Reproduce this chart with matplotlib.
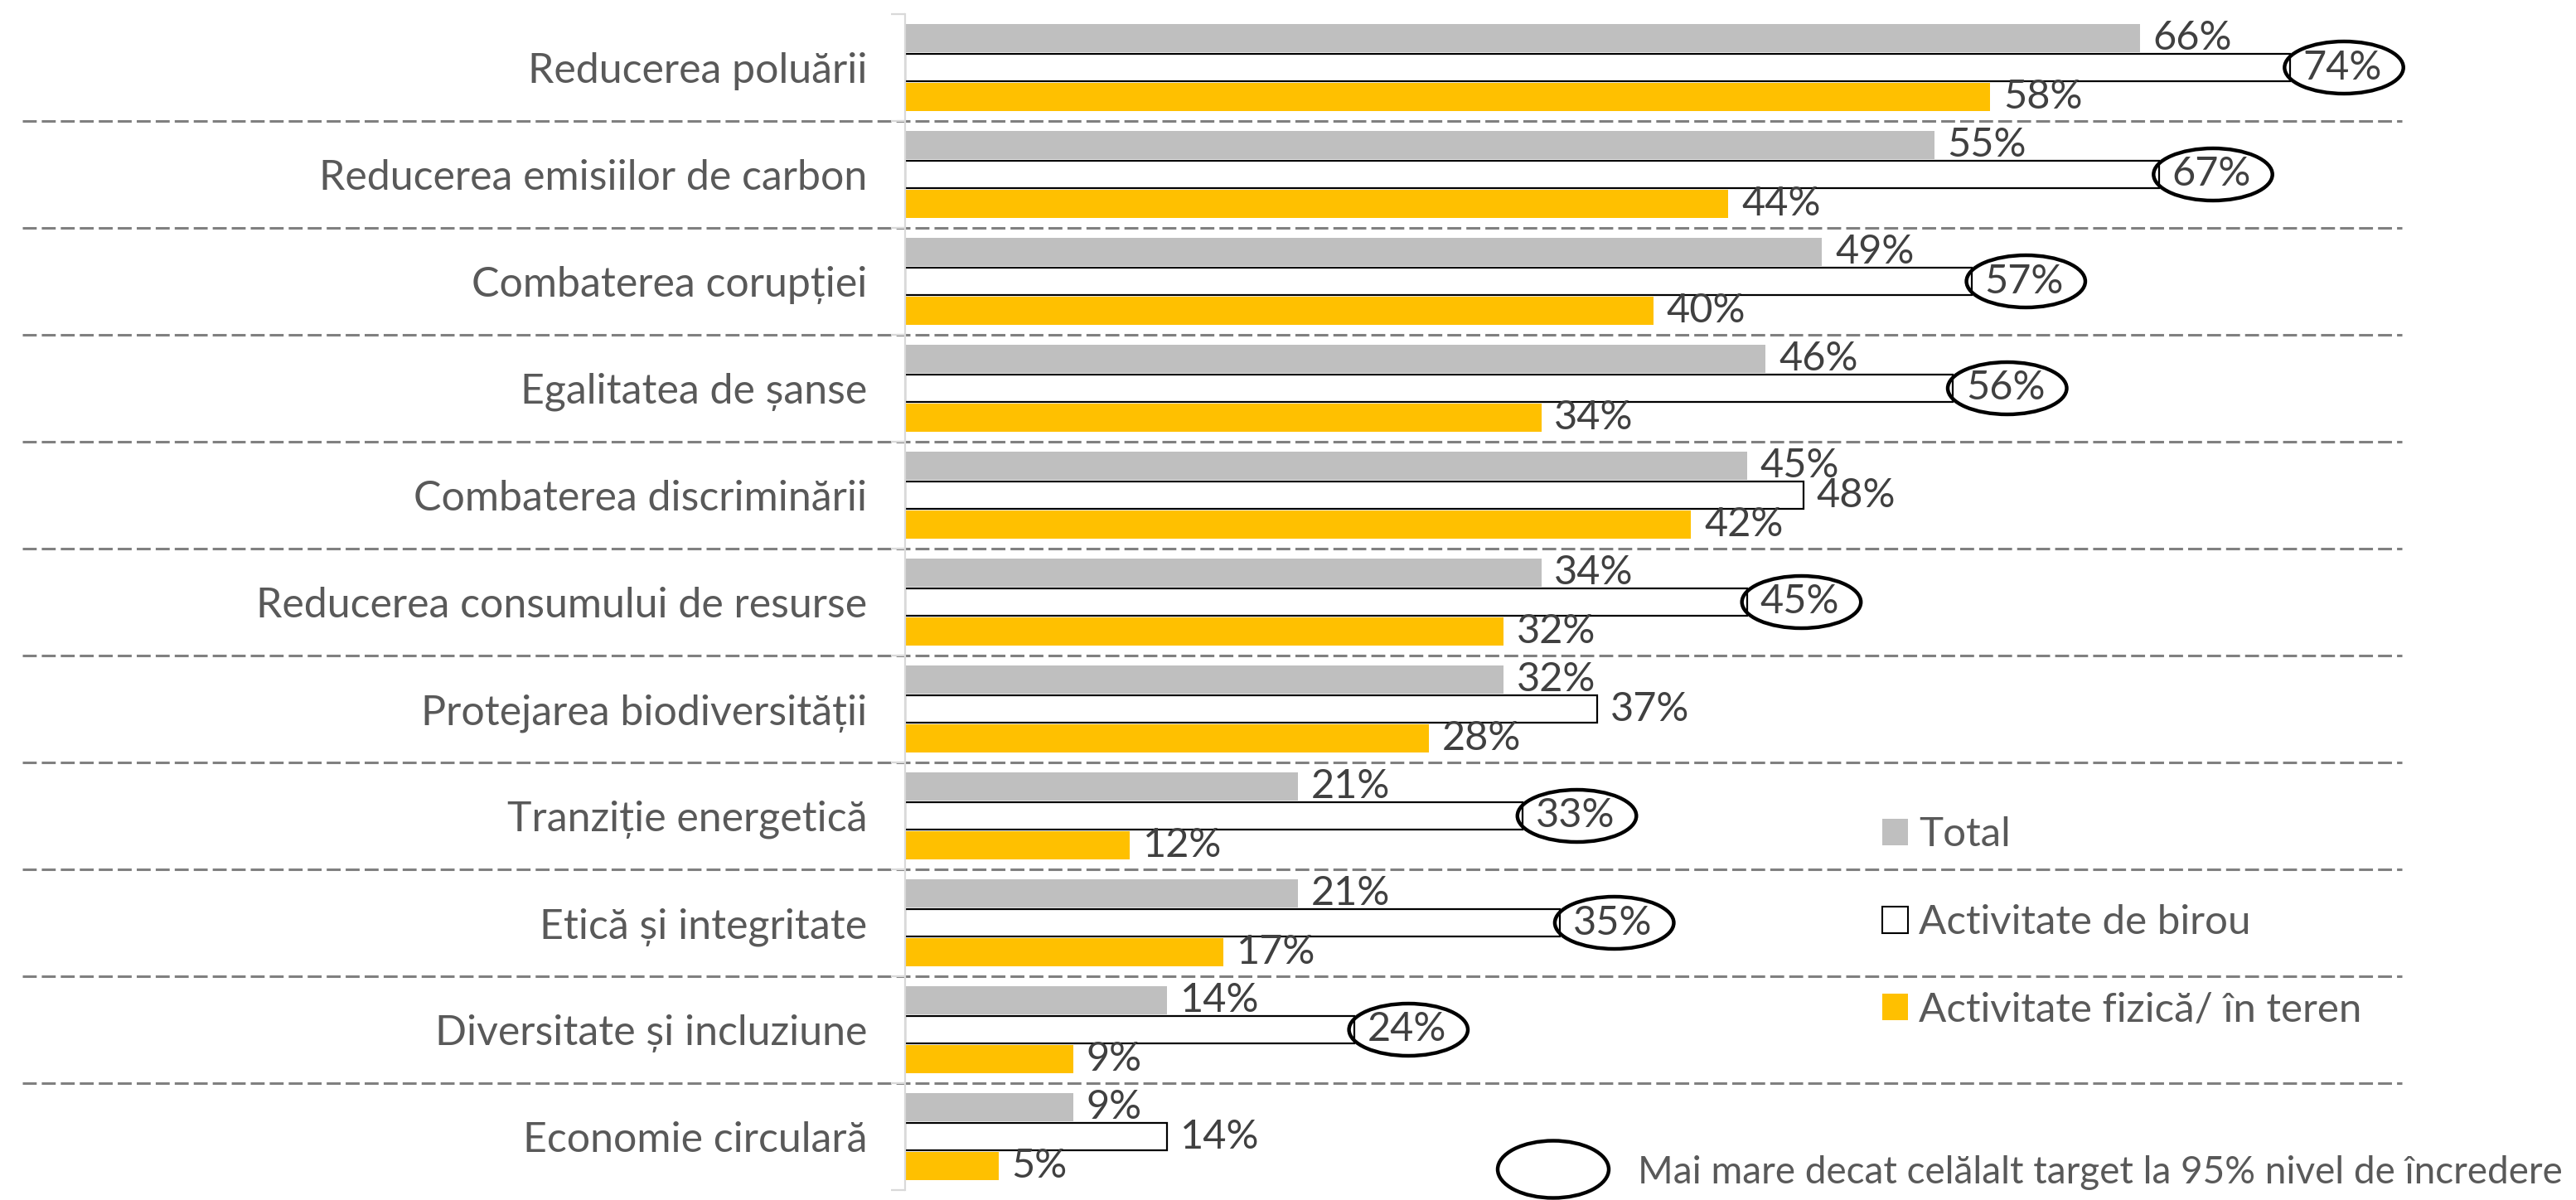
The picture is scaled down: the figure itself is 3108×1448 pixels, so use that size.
import numpy as np
import matplotlib.pyplot as plt
from matplotlib.patches import Patch, Ellipse
from matplotlib.transforms import blended_transform_factory

plt.rcParams['font.family'] = ['Lato', 'DejaVu Sans']

categories = ['Reducerea poluării', 'Reducerea emisiilor de carbon', 'Combaterea corupției',
              'Egalitatea de șanse', 'Combaterea discriminării', 'Reducerea consumului de resurse',
              'Protejarea biodiversității', 'Tranziție energetică', 'Etică și integritate',
              'Diversitate și incluziune', 'Economie circulară']
total = [66, 55, 49, 46, 45, 34, 32, 21, 21, 14, 9]
birou = [74, 67, 57, 56, 48, 45, 37, 33, 35, 24, 14]
teren = [58, 44, 40, 34, 42, 32, 28, 12, 17, 9, 5]
# birou significantly higher than the other target
birou_sig = [True, True, True, True, False, True, False, True, True, True, False]

series_names = ['Total', 'Activitate de birou', 'Activitate fizică/ în teren']
note = 'Mai mare decat celălalt target la 95% nivel de încredere'

W, H = 3108, 1448
fig = plt.figure(figsize=(W / 100, H / 100), dpi=100)
ax = fig.add_axes([1092 / W, 12 / H, 1806 / W, 1419 / H])

y = np.arange(len(categories))
bh = 0.262
off = 0.275
gray, yellow = '#BFBFBF', '#FFC000'
ax.barh(y - off, total, height=bh, color=gray, zorder=2)
ax.barh(y, birou, height=bh, color='white', edgecolor='black', linewidth=1.6, zorder=2)
ax.barh(y + off, teren, height=bh, color=yellow, zorder=2)

ax.set_xlim(0, 80)
ax.set_ylim(len(categories) - 0.5, -0.5)

txt_kw = dict(va='center', ha='left', fontsize=35, color='#404040')
pad = 0.7
for i in range(len(categories)):
    ax.text(total[i] + pad, y[i] - off, f'{total[i]}%', **txt_kw)
    ax.text(teren[i] + pad, y[i] + off, f'{teren[i]}%', **txt_kw)
birou_txt = [ax.text(birou[i] + pad, y[i], f'{birou[i]}%', **txt_kw) for i in range(len(categories))]

for s in ['top', 'right', 'bottom']:
    ax.spines[s].set_visible(False)
ax.spines['left'].set_color('#D9D9D9')
ax.spines['left'].set_linewidth(1.6)
ax.set_xticks([])
ax.set_yticks(y)
ax.set_yticklabels(categories, fontsize=36, color='#595959')
ax.tick_params(axis='y', which='major', length=0, pad=33)
ax.set_yticks(np.arange(len(categories) + 1) - 0.5, minor=True)
ax.tick_params(axis='y', which='minor', length=12, width=1.6, color='#D9D9D9')

# dashed separators across the whole width
tr = blended_transform_factory(fig.transFigure, ax.transData)
for b in np.arange(len(categories) - 1) + 0.5:
    ax.plot([27 / W, 2898 / W], [b, b], transform=tr, color='#808080', lw=2.2,
            dashes=(5.5, 2), clip_on=False, zorder=1)

# ellipses around significant labels
fig.canvas.draw()
inv = ax.transData.inverted()
for i, t in enumerate(birou_txt):
    if not birou_sig[i]:
        continue
    bb = t.get_window_extent()
    cx, cy = (bb.x0 + bb.x1) / 2 + 2, (bb.y0 + bb.y1) / 2
    p0 = inv.transform((cx - (bb.width + 48) / 2, cy - 31.5))
    p1 = inv.transform((cx + (bb.width + 48) / 2, cy + 31.5))
    e = Ellipse(((p0[0] + p1[0]) / 2, (p0[1] + p1[1]) / 2), abs(p1[0] - p0[0]), abs(p1[1] - p0[1]),
                fill=False, edgecolor='black', lw=3.2, clip_on=False, zorder=3)
    ax.add_patch(e)

handles = [Patch(facecolor=gray, edgecolor='none'),
           Patch(facecolor='white', edgecolor='black', linewidth=1.5),
           Patch(facecolor=yellow, edgecolor='none')]
leg = fig.legend(handles, series_names, loc='center left', bbox_to_anchor=(2271 / W, 1 - 1113 / H),
                 frameon=False, fontsize=35.5, labelcolor='#595959', handlelength=0.62,
                 handleheight=0.62, handletextpad=0.28, labelspacing=1.25, borderpad=0,
                 borderaxespad=0)

fig.patches.append(Ellipse((1874 / W, 1 - 1411 / H), 134 / W, 69 / H, transform=fig.transFigure,
                           fill=False, edgecolor='black', lw=3.2))
fig.text(1976 / W, 1 - 1415 / H, note, fontsize=33, color='#595959', va='center', ha='left')

fig.savefig('out.png', dpi=100)
